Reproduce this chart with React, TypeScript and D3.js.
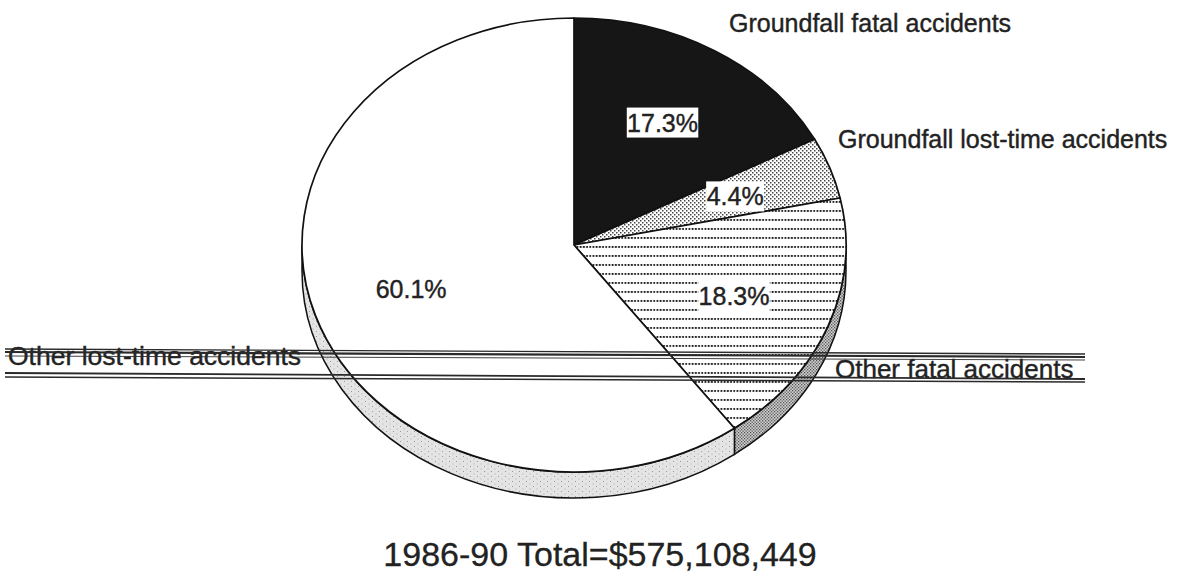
import * as d3 from "d3";

// slice order: clockwise from 12 o'clock
const categories = [
  "Groundfall fatal accidents",
  "Groundfall lost-time accidents",
  "Other fatal accidents",
  "Other lost-time accidents",
];
const shares = [17.3, 4.4, 18.3, 60.1];
const shareLabels = ["17.3%", "4.4%", "18.3%", "60.1%"];
const totalLabel = "1986-90 Total=$575,108,449";

const W = 1179;
const H = 577;
const FONT = "'Liberation Sans', Arial, Helvetica, sans-serif";

// pie geometry (tilted disc)
const cx = 574;
const cy = 245;
const rx = 272;
const ry = 227;
const depth = 26;

// fills per slice: top face and visible rim
const topFill = ["#161616", "url(#stipple)", "url(#dotrows)", "#fff"];
const rimFill = ["#666", "url(#stipple)", "url(#rimDark)", "url(#rimLight)"];
const boxed = [true, true, true, false];

// where the category names sit: x, baseline, font size
const namePos: [number, number, number][] = [
  [729, 32, 25],
  [838, 148, 25],
  [835, 378, 26],
  [8, 365, 26.5],
];

// horizontal streaks across the scan
const streaks: [number, number, number, number, number][] = [
  [5, 349, 1085, 354, 1.4],
  [5, 352, 1085, 357, 2.2],
  [5, 356, 1085, 360, 0.9],
  [5, 373, 1085, 379, 1.8],
  [5, 377, 1085, 382, 1.5],
];

const pt = (a: number, dy = 0): [number, number] => [
  cx + rx * Math.sin(a),
  cy - ry * Math.cos(a) + dy,
];

export default function App() {
  const arcs = d3
    .pie<number>()
    .sort(null)
    .startAngle(0)
    .endAngle(2 * Math.PI)(shares);

  const topPath = (a0: number, a1: number) => {
    const [x0, y0] = pt(a0);
    const [x1, y1] = pt(a1);
    const large = a1 - a0 > Math.PI ? 1 : 0;
    return `M${cx},${cy}L${x0},${y0}A${rx},${ry} 0 ${large} 1 ${x1},${y1}Z`;
  };

  const rimPath = (a0: number, a1: number) => {
    const s = Math.max(a0, Math.PI / 2);
    const e = Math.min(a1, (3 * Math.PI) / 2);
    if (s >= e) return null;
    const [x0, y0] = pt(s);
    const [x1, y1] = pt(e);
    return (
      `M${x0},${y0}A${rx},${ry} 0 0 1 ${x1},${y1}` +
      `L${x1},${y1 + depth}A${rx},${ry} 0 0 0 ${x0},${y0 + depth}Z`
    );
  };

  return (
    <svg
      width={W}
      height={H}
      style={{ position: "absolute", left: 0, top: 0, background: "#fff" }}
    >
      <defs>
        <pattern id="stipple" width="4" height="4" patternUnits="userSpaceOnUse">
          <rect width="4" height="4" fill="#fff" />
          <rect x="0" y="0" width="1.5" height="1.5" fill="#444" />
          <rect x="2" y="2" width="1.5" height="1.5" fill="#444" />
        </pattern>
        <pattern id="dotrows" width="3.2" height="9" patternUnits="userSpaceOnUse">
          <rect width="3.2" height="9" fill="#fff" />
          <rect x="0.5" y="3" width="1.8" height="1.9" fill="#1a1a1a" />
        </pattern>
        <pattern id="rimDark" width="3" height="3" patternUnits="userSpaceOnUse">
          <rect width="3" height="3" fill="#d0d0d0" />
          <rect x="0" y="0" width="1.3" height="1.3" fill="#555" />
          <rect x="1.5" y="1.5" width="1.3" height="1.3" fill="#555" />
        </pattern>
        <pattern id="rimLight" width="7" height="5" patternUnits="userSpaceOnUse">
          <rect width="7" height="5" fill="#e4e4e4" />
          <rect x="1" y="1" width="1" height="1" fill="#999" />
          <rect x="4.5" y="3.5" width="1" height="1" fill="#aaa" />
        </pattern>
      </defs>

      {/* rims */}
      {arcs.map((d, i) => {
        const p = rimPath(d.startAngle, d.endAngle);
        return p ? (
          <path key={"rim" + i} d={p} fill={rimFill[i]} stroke="#111" strokeWidth={1.5} />
        ) : null;
      })}

      {/* top faces */}
      {arcs.map((d, i) => (
        <path
          key={"top" + i}
          d={topPath(d.startAngle, d.endAngle)}
          fill={topFill[i]}
          stroke="#111"
          strokeWidth={1.7}
          strokeLinejoin="round"
        />
      ))}

      {/* percentage labels */}
      {arcs.map((d, i) => {
        const mid = (d.startAngle + d.endAngle) / 2;
        const x = cx + 0.63 * rx * Math.sin(mid);
        const y = cy - 0.63 * ry * Math.cos(mid);
        const w = shareLabels[i].length * 13.5 + 4;
        return (
          <g key={"pct" + i}>
            {boxed[i] && (
              <rect x={x - w / 2} y={y - 15} width={w} height={30} fill="#fff" />
            )}
            <text
              x={x}
              y={y + 9}
              textAnchor="middle"
              fontFamily={FONT}
              fontSize={25}
              fill="#222"
              stroke="#222"
              strokeWidth={0.4}
            >
              {shareLabels[i]}
            </text>
          </g>
        );
      })}

      {/* category names */}
      {categories.map((c, i) => (
        <text
          key={"name" + i}
          x={namePos[i][0]}
          y={namePos[i][1]}
          fontFamily={FONT}
          fontSize={namePos[i][2]}
          fill="#222"
          stroke="#222"
          strokeWidth={0.4}
        >
          {c}
        </text>
      ))}

      {/* scan streaks */}
      {streaks.map((s, i) => (
        <line
          key={"streak" + i}
          x1={s[0]}
          y1={s[1]}
          x2={s[2]}
          y2={s[3]}
          stroke="#2a2a2a"
          strokeWidth={s[4]}
        />
      ))}

      <text
        x={cx + 26}
        y={566}
        textAnchor="middle"
        fontFamily={FONT}
        fontSize={34}
        fill="#222"
        stroke="#222"
        strokeWidth={0.3}
      >
        {totalLabel}
      </text>
    </svg>
  );
}
